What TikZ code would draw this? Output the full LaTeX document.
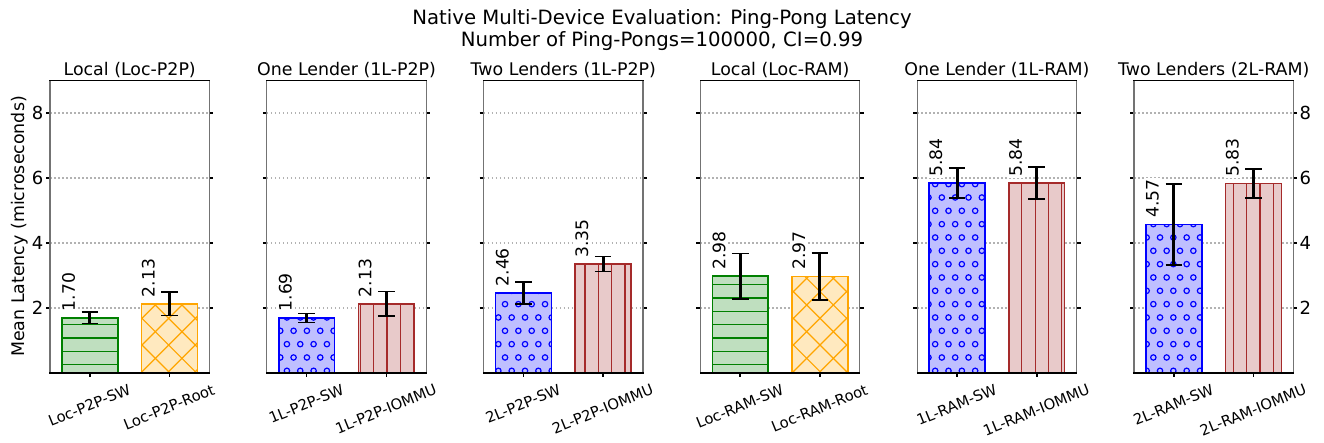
\documentclass[tikz,border=0pt]{standalone}
\usepackage{fontspec}
\setmainfont{DejaVu Sans}
\newfontfamily\dvs{DejaVu Sans}
\newcommand\supfont{\dvs\fontsize{19.7}{23}\selectfont}
\newcommand\ttlfont{\dvs\fontsize{17.4}{21}\selectfont}
\newcommand\ytfont{\dvs\fontsize{18}{21}\selectfont}
\newcommand\xtfont{\dvs\fontsize{14.8}{18}\selectfont}
\newcommand\valfont{\dvs\fontsize{17.2}{21}\selectfont}

\definecolor{gedge}{HTML}{008000}
\definecolor{gfill}{HTML}{BFDFBF}
\definecolor{oedge}{HTML}{FFA500}
\definecolor{ofill}{HTML}{FFE9BF}
\definecolor{bedge}{HTML}{0000FF}
\definecolor{bfill}{HTML}{BFBFFF}
\definecolor{redge}{HTML}{A52A2A}
\definecolor{rfill}{HTML}{E8CACA}

\newsavebox\xtbox
\newlength\xtw
\newlength\xth
\newlength\xtoff

% y position (pt, downwards) of a data value
\newcommand\yv[1]{373-32.5*(#1)}

% dotted horizontal grid of one panel
\newcommand\gridlines[1]{%
  \foreach \g in {2,4,6,8}
    \draw[gridln] (#1,{\yv{\g}}) -- ({#1+159.4},{\yv{\g}});
}

% bar with horizontal hatch
\newcommand\greenbar[2]{%
  \pgfmathsetmacro\bt{\yv{#2}}%
  \fill[gfill] (#1,373) rectangle ({#1+55.8},\bt);
  \begin{scope}
    \clip (#1,373) rectangle ({#1+55.8},\bt);
    \foreach \k in {0,...,28}
      \draw[hatch,gedge] ({#1-2},{4.6+13.3333*\k}) -- ({#1+58},{4.6+13.3333*\k});
  \end{scope}
  \draw[baredge,gedge] (#1,373) rectangle ({#1+55.8},\bt);
}

% bar with diagonal cross hatch; #3, #4 = phases of the two line families
\newcommand\orangebar[4]{%
  \pgfmathsetmacro\bt{\yv{#2}}%
  \fill[ofill] (#1,373) rectangle ({#1+55.8},\bt);
  \begin{scope}
    \clip (#1,373) rectangle ({#1+55.8},\bt);
    \pgfmathtruncatemacro\ka{floor((#1-380-#3)/26.6667)}%
    \pgfmathtruncatemacro\kb{floor((#1+\bt-10-#4)/26.6667)}%
    \foreach \k in {0,...,17}{
      \draw[hatch,oedge] ({#3+26.6667*(\ka+\k)+\bt-6},{\bt-6}) -- ({#3+26.6667*(\ka+\k)+380},380);
      \draw[hatch,oedge] ({#4+26.6667*(\kb+\k)-\bt+6},{\bt-6}) -- ({#4+26.6667*(\kb+\k)-380},380);
    }
  \end{scope}
  \draw[baredge,oedge] (#1,373) rectangle ({#1+55.8},\bt);
}

% bar with small circle hatch; #3 = horizontal phase
\newcommand\bluebar[3]{%
  \pgfmathsetmacro\bt{\yv{#2}}%
  \fill[bfill] (#1,373) rectangle ({#1+55.8},\bt);
  \begin{scope}
    \clip (#1,373) rectangle ({#1+55.8},\bt);
    \pgfmathtruncatemacro\rs{floor((\bt-10.8)/13.3333)}%
    \foreach \r in {\rs,...,28}{
      \pgfmathsetmacro\yy{10.8+13.3333*\r}%
      \pgfmathsetmacro\xo{#3+6.6667*mod(\r,2)}%
      \pgfmathtruncatemacro\cs{floor((#1-\xo)/13.3333)}%
      \foreach \c in {0,...,5}
        \draw[hatch,bedge] ({\xo+13.3333*(\cs+\c)},\yy) circle[radius=2.7pt];
    }
  \end{scope}
  \draw[baredge,bedge] (#1,373) rectangle ({#1+55.8},\bt);
}

% bar with vertical hatch; #3 = horizontal phase
\newcommand\brownbar[3]{%
  \pgfmathsetmacro\bt{\yv{#2}}%
  \fill[rfill] (#1,373) rectangle ({#1+55.8},\bt);
  \begin{scope}
    \clip (#1,373) rectangle ({#1+55.8},\bt);
    \pgfmathtruncatemacro\cs{floor((#1-#3)/13.3333)}%
    \foreach \c in {0,...,5}
      \draw[hatch,redge] ({#3+13.3333*(\cs+\c)},{\bt-2}) -- ({#3+13.3333*(\cs+\c)},375);
  \end{scope}
  \draw[baredge,redge] (#1,373) rectangle ({#1+55.8},\bt);
}

% confidence interval whisker
\newcommand\errbar[3]{%
  \draw[errln] (#1,{\yv{#2-#3}}) -- (#1,{\yv{#2+#3}});
  \draw[capln] ({#1-8.3},{\yv{#2-#3}}) -- ({#1+8.3},{\yv{#2-#3}});
  \draw[capln] ({#1-8.3},{\yv{#2+#3}}) -- ({#1+8.3},{\yv{#2+#3}});
}

% rotated value printed above a bar
\newcommand\vallabel[4]{%
  \node[vlab] (#1) at ({#2-1.2},{\yv{#3}-5.3}) {#4};
}

% axes frame and ticks of one panel
\newcommand\panelframe[1]{%
  \foreach \g in {2,4,6,8}{
    \draw[tickln] ({#1-4},{\yv{\g}}) -- ({#1+0.5},{\yv{\g}});
    \draw[tickln] ({#1+158.9},{\yv{\g}}) -- ({#1+163.4},{\yv{\g}});
  }
  \draw[tickln] ({#1+39.85},373) -- ({#1+39.85},377);
  \draw[tickln] ({#1+119.55},373) -- ({#1+119.55},377);
  \draw[spinev] (#1,80.5) -- (#1,373);
  \draw[spinev] ({#1+159.4},80.5) -- ({#1+159.4},373);
  \draw[spineh] (#1,80.5) -- ({#1+159.4},80.5);
  \draw[spineh] (#1,373) -- ({#1+159.4},373);
}

% slanted category label (22 degrees) centred under a tick, its
% rotated box hanging from y = 383.5; the text is measured outside
% the picture so that its real font is used
\newcommand\xtlabel[3]{%
  \pgfinterruptpicture
    \global\setbox\xtbox\hbox{\xtfont #3\vphantom{lp}}%
  \endpgfinterruptpicture
  \setlength\xtw{\wd\xtbox}%
  \setlength\xth{\ht\xtbox}\addtolength\xth{\dp\xtbox}%
  \setlength\xtoff{\dimexpr 383.5pt + 0.1873\xtw + 0.4636\xth\relax}%
  \pgfmathsetmacro\yc{\xtoff}%
  \node[xtl] (#1) at (#2,\yc) {#3\vphantom{lp}};
}

\begin{document}
\begin{tikzpicture}[x=1pt,y=-1pt,
  gridln/.style={line width=1.5pt, color=black!30, dash pattern=on 1.5pt off 2.5pt},
  hatch/.style={line width=1.2pt},
  baredge/.style={line width=1.6pt},
  errln/.style={line width=3pt, black},
  capln/.style={line width=1.6pt, black},
  tickln/.style={line width=1.6pt, black},
  spineh/.style={line width=1.1pt, black, line cap=rect},
  spinev/.style={line width=1.1pt, black!55, line cap=rect},
  supt/.style={font=\supfont, inner sep=0pt, anchor=base},
  ttl/.style={font=\ttlfont, inner sep=0pt, anchor=base},
  ylab/.style={font=\ttlfont, inner sep=0pt, rotate=90, anchor=base},
  ytl/.style={font=\ytfont, inner sep=0pt},
  xtl/.style={font=\xtfont, inner sep=0pt, rotate=22, anchor=center},
  vlab/.style={font=\valfont, rotate=90, anchor=north west, fill=white, inner sep=1.2pt},
]
\useasboundingbox (0,0) rectangle (1324,442);

\node[supt] (sup1) at (662,24.3) {Native Multi-Device Evaluation: Ping-Pong Latency};
\node[supt] (sup2) at (662,46.2) {Number of Ping-Pongs=100000, CI=0.99};

\node[ylab] (ylabel) at (24.5,226.5) {Mean Latency (microseconds)};
\foreach \g in {2,4,6,8}{
  \node[ytl, anchor=east] (yl\g) at (43.5,{\yv{\g}}) {\g};
  \node[ytl, anchor=west] (yr\g) at (1299.5,{\yv{\g}}) {\g};
}

% ---- Local (Loc-P2P)
\gridlines{50}
\greenbar{61.95}{1.70}
\orangebar{141.65}{2.13}{10.3}{7}
\vallabel{v1a}{61.95}{1.70}{1.70}
\vallabel{v1b}{141.65}{2.13}{2.13}
\errbar{89.85}{1.70}{0.18}
\errbar{169.55}{2.13}{0.36}
\panelframe{50}
\node[ttl] (t1) at (129.7,75) {Local (Loc-P2P)};
\xtlabel{x1a}{89.85}{Loc-P2P-SW}
\xtlabel{x1b}{169.55}{Loc-P2P-Root}

% ---- One Lender (1L-P2P)
\gridlines{266.8}
\bluebar{278.75}{1.69}{0.25}
\brownbar{358.45}{2.13}{0.25}
\vallabel{v2a}{278.75}{1.69}{1.69}
\vallabel{v2b}{358.45}{2.13}{2.13}
\errbar{306.65}{1.69}{0.14}
\errbar{386.35}{2.13}{0.375}
\panelframe{266.8}
\node[ttl] (t2) at (346.5,75) {One Lender (1L-P2P)};
\xtlabel{x2a}{306.65}{1L-P2P-SW}
\xtlabel{x2b}{386.35}{1L-P2P-IOMMU}

% ---- Two Lenders (1L-P2P)
\gridlines{483.6}
\bluebar{495.55}{2.46}{11.7}
\brownbar{575.25}{3.35}{11.7}
\vallabel{v3a}{495.55}{2.46}{2.46}
\vallabel{v3b}{575.25}{3.35}{3.35}
\errbar{523.45}{2.46}{0.345}
\errbar{603.15}{3.35}{0.23}
\panelframe{483.6}
\node[ttl] (t3) at (563.3,75) {Two Lenders (1L-P2P)};
\xtlabel{x3a}{523.45}{2L-P2P-SW}
\xtlabel{x3b}{603.15}{2L-P2P-IOMMU}

% ---- Local (Loc-RAM)
\gridlines{700.4}
\greenbar{712.35}{2.98}
\orangebar{792.05}{2.97}{21.7}{18.3}
\vallabel{v4a}{712.35}{2.98}{2.98}
\vallabel{v4b}{792.05}{2.97}{2.97}
\errbar{740.25}{2.98}{0.70}
\errbar{819.95}{2.97}{0.72}
\panelframe{700.4}
\node[ttl] (t4) at (780.1,75) {Local (Loc-RAM)};
\xtlabel{x4a}{740.25}{Loc-RAM-SW}
\xtlabel{x4b}{819.95}{Loc-RAM-Root}

% ---- One Lender (1L-RAM)
\gridlines{917.2}
\bluebar{929.15}{5.84}{8.5}
\brownbar{1008.85}{5.84}{8.5}
\vallabel{v5a}{929.15}{5.84}{5.84}
\vallabel{v5b}{1008.85}{5.84}{5.84}
\errbar{957.05}{5.84}{0.46}
\errbar{1036.75}{5.84}{0.49}
\panelframe{917.2}
\node[ttl] (t5) at (996.9,75) {One Lender (1L-RAM)};
\xtlabel{x5a}{957.05}{1L-RAM-SW}
\xtlabel{x5b}{1036.75}{1L-RAM-IOMMU}

% ---- Two Lenders (2L-RAM)
\gridlines{1134}
\bluebar{1145.95}{4.57}{6.67}
\brownbar{1225.65}{5.83}{6.67}
\vallabel{v6a}{1145.95}{4.57}{4.57}
\vallabel{v6b}{1225.65}{5.83}{5.83}
\errbar{1173.85}{4.57}{1.24}
\errbar{1253.55}{5.83}{0.44}
\panelframe{1134}
\node[ttl] (t6) at (1213.7,75) {Two Lenders (2L-RAM)};
\xtlabel{x6a}{1173.85}{2L-RAM-SW}
\xtlabel{x6b}{1253.55}{2L-RAM-IOMMU}
\end{tikzpicture}
\end{document}
